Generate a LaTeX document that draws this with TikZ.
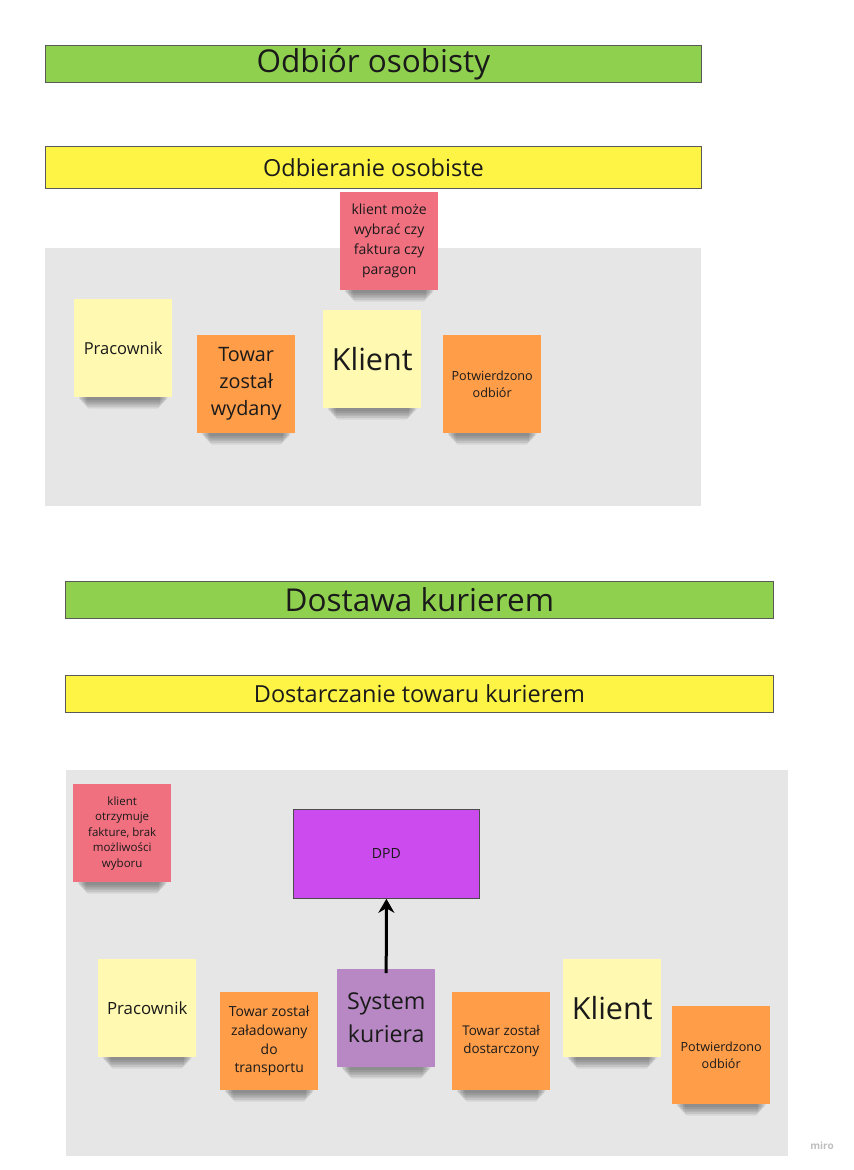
\documentclass[tikz,border=0pt]{standalone}
\usepackage{fontspec}
\setmainfont{Open Sans}
\usetikzlibrary{arrows.meta}
\definecolor{mgreen}{HTML}{8FD14F}
\definecolor{myellow}{HTML}{FEF445}
\definecolor{mgray}{HTML}{E6E6E6}
\definecolor{sticky}{HTML}{FFF9B1}
\definecolor{morange}{HTML}{FF9D48}
\definecolor{mpink}{HTML}{F1707F}
\definecolor{mviolet}{HTML}{B888C4}
\definecolor{dpd}{HTML}{CC4BEE}
\definecolor{txt}{HTML}{1A1A1A}
\pgfdeclarelayer{regionlayer}
\pgfdeclarelayer{shadowlayer}
\pgfsetlayers{regionlayer,shadowlayer,main}
\tikzset{
  bar/.style={draw=black!65, line width=0.8pt, inner sep=0pt, anchor=north west, text=txt},
  note/.style={minimum width=98pt, minimum height=98pt, inner sep=2pt, anchor=north west,
    align=center, text=txt},
  region/.style={fill=mgray, draw=none},
  shadowband/.style={fill=black, opacity=0.075, rounded corners=3pt},
}
\newcommand{\noteshadow}[1]{%
  \begin{pgfonlayer}{shadowlayer}
  \foreach \i in {1,...,6}{
    \fill[shadowband] ([xshift={3pt+\i*1.6pt},yshift=3pt]#1.south west) rectangle ([xshift={-3pt-\i*1.6pt},yshift={-1pt-\i*1.7pt}]#1.south east);
  }
  \end{pgfonlayer}}
\begin{document}
\begin{tikzpicture}[x=1pt,y=-1pt]
\begin{pgfonlayer}{regionlayer}
\fill[white] (0,0) rectangle (854,1170);
\fill[region] (45,248) rectangle (701,506);
\fill[region] (66,770) rectangle (788,1156);
\end{pgfonlayer}
\useasboundingbox (0,0) rectangle (854,1170);
% section 1
\node[bar, fill=mgreen, minimum width=656pt, minimum height=37pt, font=\fontsize{31.5}{34}\selectfont] (t1) at (45,45) {Odbiór osobisty};
\node[bar, fill=myellow, minimum width=656pt, minimum height=42pt, font=\fontsize{23.5}{26}\selectfont] (s1) at (45,146) {Odbieranie osobiste};
\node[note, fill=mpink, font=\fontsize{14}{20}\selectfont] (p1) at (340,192) {klient może\\wybrać czy\\faktura czy\\paragon};
\node[note, fill=sticky, font=\fontsize{16.5}{19}\selectfont] (a1) at (74,299) {Pracownik};
\node[note, fill=morange, font=\fontsize{19.8}{27}\selectfont] (b1) at (197,335) {Towar\\został\\wydany};
\node[note, fill=sticky, font=\fontsize{30.5}{34}\selectfont] (c1) at (323,310) {Klient};
\node[note, fill=morange, font=\fontsize{12.6}{17}\selectfont] (d1) at (443,335) {Potwierdzono\\odbiór};
% section 2
\node[bar, fill=mgreen, minimum width=708pt, minimum height=37pt, font=\fontsize{31.5}{34}\selectfont] (t2) at (65,581) {Dostawa kurierem};
\node[bar, fill=myellow, minimum width=708pt, minimum height=37pt, font=\fontsize{23.5}{26}\selectfont] (s2) at (65,675) {Dostarczanie towaru kurierem};
\node[note, fill=mpink, font=\fontsize{11.5}{15.5}\selectfont] (p2) at (73,784) {klient\\otrzymuje\\fakture, brak\\możliwości\\wyboru};
\node[draw=black!70, line width=0.8pt, fill=dpd, minimum width=186pt, minimum height=89pt, anchor=north west, inner sep=0pt, text=txt, font=\fontsize{14}{16}\selectfont] (dpd) at (293,809) {DPD};
\node[note, fill=sticky, font=\fontsize{16.8}{19}\selectfont] (a2) at (98,959) {Pracownik};
\node[note, fill=morange, font=\fontsize{13.9}{18.7}\selectfont] (b2) at (220,992) {Towar został\\załadowany\\do\\transportu};
\node[note, fill=mviolet, font=\fontsize{23.2}{33}\selectfont] (c2) at (337,969) {System\\kuriera};
\node[note, fill=morange, font=\fontsize{13.4}{18}\selectfont] (d2) at (452,992) {Towar został\\dostarczony};
\node[note, fill=sticky, font=\fontsize{30.5}{34}\selectfont] (e2) at (563,959) {Klient};
\node[note, fill=morange, font=\fontsize{12.6}{17}\selectfont] (f2) at (672,1006) {Potwierdzono\\odbiór};
\foreach \n in {p1,a1,b1,c1,d1,p2,a2,b2,c2,d2,e2,f2}{\noteshadow{\n}}
\draw[line width=3pt, -{Stealth[length=14pt,width=16pt]}] ([yshift=-4pt]c2.north) -- (dpd.south);
\node[text=black!25, font=\fontsize{10}{12}\selectfont\bfseries] (miro) at (822,1146) {miro};
\end{tikzpicture}
\end{document}
